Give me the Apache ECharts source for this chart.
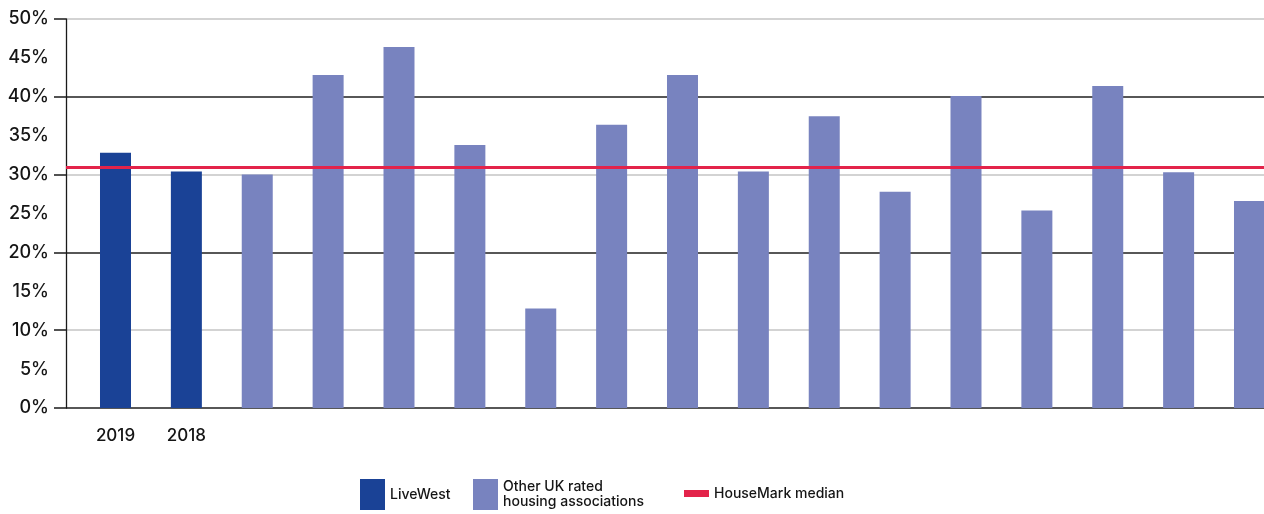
<!DOCTYPE html>
<html>
<head>
<meta charset="utf-8">
<style>
  html, body { margin: 0; padding: 0; background: #ffffff; }
  #chart { width: 1264px; height: 514px; }
</style>
<script src="https://cdn.jsdelivr.net/npm/echarts@6/dist/echarts.min.js"></script>
</head>
<body>
<div id="chart"></div>
<script>
// Category labels along the bottom (only the LiveWest years are labelled)
const categories = ['2019', '2018', '', '', '', '', '', '', '', '', '', '', '', '', '', '', ''];
// Operating margin, %
const liveWest = [32.8, 30.4];
const otherAssociations = [30.0, 42.8, 46.4, 33.8, 12.8, 36.4, 42.8, 30.4, 37.5, 27.8, 40.1, 25.4, 41.4, 30.3, 26.6];
const houseMarkMedian = 31.0;
// Y axis ticks
const yTicks = [0, 5, 10, 15, 20, 25, 30, 35, 40, 45, 50];
const yMajorTicks = [0, 10, 20, 30, 40, 50];

const seriesNames = ['LiveWest', 'Other UK rated housing associations', 'HouseMark median'];

const liveWestData = liveWest.map((v, i) => [i, v]);
const otherData = otherAssociations.map((v, i) => [i + liveWest.length, v]);
const allIndices = categories.map((c, i) => i);

const FONT = 'Inter, "Noto Sans", sans-serif';
const TEXT = '#151515';

const chart = echarts.init(document.getElementById('chart'), null, { renderer: 'canvas' });

const legendBase = {
  orient: 'horizontal',
  itemWidth: 25,
  itemHeight: 31,
  itemGap: 0,
  padding: 0,
  selectedMode: false,
  textStyle: { fontFamily: FONT, fontSize: 14, fontWeight: 500, color: TEXT, lineHeight: 15 }
};

chart.setOption({
  animation: false,
  backgroundColor: '#ffffff',
  grid: { left: 66, right: 0, top: 19, height: 389, containLabel: false },
  legend: [
    Object.assign({}, legendBase, {
      left: 360, top: 479,
      data: [{ name: seriesNames[0], icon: 'rect' }]
    }),
    Object.assign({}, legendBase, {
      left: 473, top: 479,
      data: [{ name: seriesNames[1], icon: 'rect' }],
      formatter: () => 'Other UK rated\nhousing associations'
    }),
    Object.assign({}, legendBase, {
      left: 684, top: 486,
      data: [{ name: seriesNames[2], icon: 'path://M0 0H25V7H0Z' }]
    })
  ],
  xAxis: {
    type: 'value',
    min: -0.6984,
    max: 16.2047,
    axisLine: { show: false },
    axisTick: { show: false },
    splitLine: { show: false },
    axisLabel: {
      customValues: allIndices.filter(i => categories[i] !== ''),
      formatter: v => categories[Math.round(v)] || '',
      margin: 19,
      fontFamily: FONT,
      fontSize: 17,
      fontWeight: 500,
      color: TEXT
    }
  },
  yAxis: {
    type: 'value',
    min: yTicks[0],
    max: yTicks[yTicks.length - 1],
    interval: 5,
    axisLine: { show: true, onZero: false, lineStyle: { color: '#1a1a1a', width: 1.3 } },
    axisTick: {
      show: true,
      customValues: yMajorTicks,
      length: 12,
      lineStyle: { color: '#1a1a1a', width: 1.5 }
    },
    axisLabel: {
      formatter: '{value}%',
      margin: 17,
      fontFamily: FONT,
      fontSize: 18,
      fontWeight: 500,
      color: TEXT
    },
    splitLine: {
      show: true,
      lineStyle: { color: ['#1f1f1f', '#c4c4c4'], width: 1.5 }
    }
  },
  series: [
    {
      name: seriesNames[0],
      type: 'bar',
      data: liveWestData,
      barWidth: 31,
      barGap: '-100%',
      itemStyle: { color: '#1a4296' },
      z: 2
    },
    {
      name: seriesNames[1],
      type: 'bar',
      data: otherData,
      barWidth: 31,
      barGap: '-100%',
      itemStyle: { color: '#7883bf' },
      z: 2
    },
    {
      name: seriesNames[2],
      type: 'line',
      data: [],
      symbol: 'none',
      itemStyle: { color: '#e3234a' },
      lineStyle: { color: '#e3234a', width: 3 },
      z: 5,
      markLine: {
        silent: true,
        symbol: 'none',
        label: { show: false },
        lineStyle: { color: '#e3234a', width: 3, type: 'solid' },
        data: [{ yAxis: houseMarkMedian }]
      }
    }
  ]
});
</script>
</body>
</html>
